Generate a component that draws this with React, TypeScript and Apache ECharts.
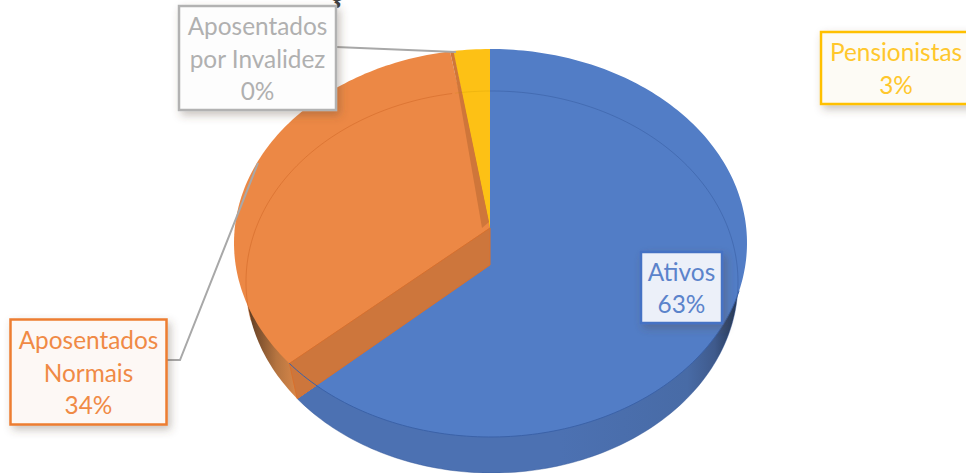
import React, { useEffect, useRef } from "react";
import * as echarts from "echarts";

const sliceNames = ["Ativos", "Aposentados\nNormais", "Aposentados\npor Invalidez", "Pensionistas"];
const sliceValues = [63.4, 33.9, 0.2, 2.5];
const topColors = ["#527dc6", "#ec8845", "#cf763a", "#fdc115"];
const seamColors = ["rgba(47,84,150,0.42)", "rgba(205,100,35,0.5)", "rgba(0,0,0,0)", "rgba(190,140,0,0.22)"];

const TOP = { cx: 490.5, cy: 243, rx: 256.5, ry: 194, ax: 490, ay: 228 };
const BOT = { cx: 492, cy: 282, rx: 246, ry: 191, ax: 490, ay: 265 };

type E = typeof TOP;

function rim(t: number, e: E): number[] {
  const dx = Math.sin(t) * e.rx;
  const dy = -Math.cos(t) * e.ry;
  const ox = (e.ax - e.cx) / e.rx;
  const oy = (e.ay - e.cy) / e.ry;
  const px = dx / e.rx;
  const py = dy / e.ry;
  const a = px * px + py * py;
  const b = 2 * (ox * px + oy * py);
  const c = ox * ox + oy * oy - 1;
  const s = (-b + Math.sqrt(b * b - 4 * a * c)) / (2 * a);
  return [e.ax + dx * s, e.ay + dy * s];
}

function arc(t0: number, t1: number, e: E): number[][] {
  const n = Math.max(2, Math.ceil(Math.abs(t1 - t0) / 0.02));
  const pts: number[][] = [];
  for (let i = 0; i <= n; i++) pts.push(rim(t0 + ((t1 - t0) * i) / n, e));
  return pts;
}

const total = sliceValues.reduce((a, b) => a + b, 0);
function angles(i: number): [number, number] {
  let sum = 0;
  for (let k = 0; k < i; k++) sum += sliceValues[k];
  const start = (sum / total) * Math.PI * 2;
  return [start, start + (sliceValues[i] / total) * Math.PI * 2];
}

const grad = (x0: number, x1: number, stops: [number, string][]) => ({
  type: "linear",
  x: x0,
  y: 0,
  x2: x1,
  y2: 0,
  global: true,
  colorStops: stops.map(([offset, color]) => ({ offset, color })),
});

const sideFills = [
  grad(560, 742, [
    [0, "#4c71b2"],
    [0.7, "#486ba6"],
    [0.85, "#3f5a8c"],
    [0.95, "#2a3e60"],
    [1, "#223350"],
  ]),
  grad(240, 296, [
    [0, "#32220f"],
    [0.25, "#72492a"],
    [0.65, "#b57440"],
    [1, "#d68649"],
  ]),
  "#8a8a8a",
  "#c79a12",
];

const sideRender = (params: any, api: any) => {
  const i = api.value(0);
  const [a, b] = angles(i);
  return {
    type: "polygon",
    shape: { points: [[BOT.ax, BOT.ay], ...arc(a, b, BOT)] },
    style: { fill: sideFills[i] as any },
  };
};

const topRender = (params: any, api: any) => {
  const i = api.value(0);
  const [a, b] = angles(i);
  return {
    type: "polygon",
    shape: { points: [[TOP.ax, TOP.ay], ...arc(a, b, TOP)] },
    style: { fill: topColors[i] },
  };
};

// slice walls and the see-through rim of the lower face
const detailRender = (params: any, api: any) => {
  const i = api.value(0);
  const [a, b] = angles(i);
  const children: any[] = [];
  const hiddenRim = arc(a, b, BOT).filter((p) => i !== 1 || p[1] < rim(a, TOP)[1] - 40);
  if (hiddenRim.length > 1) {
    children.push({
      type: "polyline",
      shape: { points: hiddenRim },
      style: { stroke: seamColors[i], lineWidth: 1, fill: "none" },
    });
  }
  if (i === 1) {
    const t0 = rim(a, TOP);
    const b0 = rim(a, BOT);
    children.push({
      type: "polygon",
      shape: { points: [[TOP.ax, TOP.ay], t0, b0, [BOT.ax, BOT.ay]] },
      style: { fill: "#cd763c", stroke: "#d9702c", lineWidth: 1 },
    });
    const t1 = rim(angles(2)[1], TOP);
    children.push({
      type: "polygon",
      shape: {
        points: [
          [t1[0] + 0.5, t1[1]],
          [TOP.ax - 1, TOP.ay - 6],
          [TOP.ax - 8, TOP.ay],
          [t1[0] - 1.5, t1[1] + 1],
        ],
      },
      style: { fill: "#cf763a" },
    });
    // front rim of the first slice shows through the wall
    const [a0, b0a] = angles(0);
    const seam = arc(a0, b0a, TOP).filter((p) => p[1] > TOP.cy + 45);
    children.push({
      type: "polyline",
      shape: { points: seam },
      style: { stroke: "#3b62a8", lineWidth: 1, fill: "none" },
    });
  }
  return { type: "group", children };
};

const labelText = (i: number) => `${sliceNames[i]}\n${Math.round(sliceValues[i])}%`;

const FONT = "Lato, 'Open Sans', sans-serif";

const labelBox = (i: number, x: number, y: number, w: number, h: number, color: string, fill: string, text: string) => [
  {
    type: "rect",
    z: 20,
    shape: { x, y, width: w, height: h },
    style: {
      fill,
      stroke: color,
      lineWidth: 2.5,
      shadowBlur: 9,
      shadowOffsetX: 3,
      shadowOffsetY: 4,
      shadowColor: "rgba(90,70,50,0.32)",
    },
  },
  {
    type: "text",
    z: 21,
    x: x + w / 2,
    y: y + h / 2,
    style: {
      text: labelText(i),
      fill: text,
      font: `400 24.4px ${FONT}`,
      lineHeight: 32.5,
      align: "center",
      verticalAlign: "middle",
    },
  },
];

export default function App() {
  const ref = useRef<HTMLDivElement>(null);
  useEffect(() => {
    const chart = echarts.init(ref.current!, null, { renderer: "svg" });
    const data = sliceValues.map((v, i) => [i, v]);
    chart.setOption({
      animation: false,
      backgroundColor: "#ffffff",
      series: [
        { type: "custom", coordinateSystem: "none", z: 2, data, renderItem: sideRender },
        { type: "custom", coordinateSystem: "none", z: 3, data, renderItem: topRender },
        { type: "custom", coordinateSystem: "none", z: 4, data, renderItem: detailRender },
      ],
      graphic: {
        elements: [
          {
            type: "text",
            z: 5,
            x: 328,
            y: -26,
            style: { text: "ç", fill: "#404040", font: "700 30px 'Open Sans', sans-serif" },
          },
          {
            type: "polyline",
            z: 10,
            shape: { points: [[336, 47], [456, 52]] },
            style: { stroke: "#a8a8a8", lineWidth: 2, fill: "none" },
          },
          {
            type: "polyline",
            z: 10,
            shape: { points: [[167, 360], [180, 360], [258, 163]] },
            style: { stroke: "#a8a8a8", lineWidth: 2, fill: "none" },
          },
          ...labelBox(2, 179, 6, 157, 104, "#b2b2b2", "#fdfdfd", "#b0b0b0"),
          ...labelBox(1, 10.5, 319.5, 156, 105, "#ed7d31", "#fdf8f5", "#f08a45"),
          ...labelBox(0, 641, 252, 81, 71, "#4472c4", "#ecf0f9", "#5b83cb"),
          ...labelBox(3, 821, 32, 150, 72, "#ffc000", "#fdfbf5", "#ffc72c"),
        ],
      },
    });
    return () => chart.dispose();
  }, []);
  return <div ref={ref} style={{ position: "absolute", left: 0, top: 0, width: 966, height: 473 }} />;
}
